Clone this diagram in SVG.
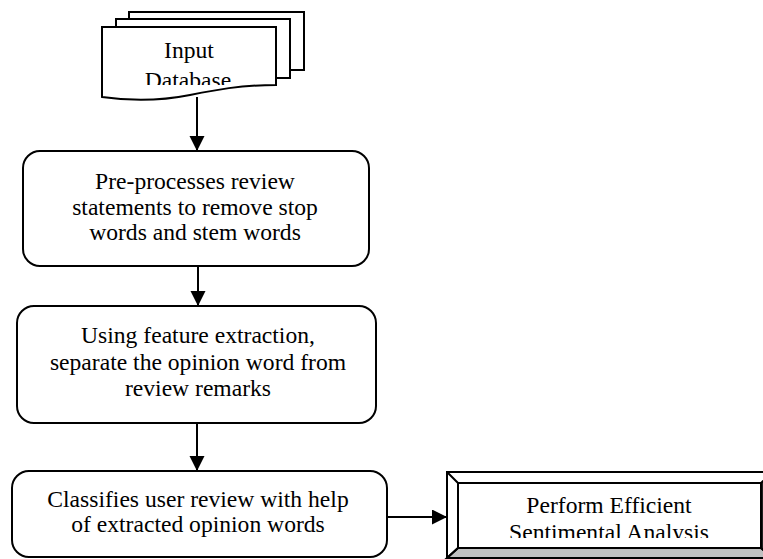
<svg xmlns="http://www.w3.org/2000/svg" width="763" height="559" viewBox="0 0 763 559">
<style>
.s{fill:#fff;stroke:#000;stroke-width:2}
.t{font-family:"Liberation Serif","Times New Roman",serif;font-size:23.6px;fill:#000;text-anchor:middle}
.c{stroke:#000;stroke-width:2;fill:none}
</style>
<defs>
<marker id="ah" markerUnits="userSpaceOnUse" markerWidth="16" markerHeight="16" refX="15" refY="7.5" orient="auto">
<path d="M0,0 L15,7.5 L0,15 Z" fill="#000"/>
</marker>
<clipPath id="docclip"><rect x="103" y="28" width="172" height="57"/></clipPath>
<clipPath id="bevclip"><rect x="458" y="483" width="303" height="55"/></clipPath>
</defs>
<rect width="763" height="559" fill="#fff"/>
<g id="input-database">
<rect class="s" x="129" y="12" width="175" height="58"/>
<rect class="s" x="116" y="19" width="174" height="59"/>
<path class="s" d="M102,27 H276 V85 C240,85 215,90 190,95 C160,101 130,101 102,97 Z"/>
<g clip-path="url(#docclip)">
<text class="t" x="189" y="58">Input</text>
<text class="t" x="188" y="87.5">Database</text>
</g>
</g>
<g id="preprocess">
<rect class="s" x="23" y="151" width="346" height="115" rx="17"/>
<text class="t" x="195" y="189">Pre-processes review</text>
<text class="t" x="195" y="215">statements to remove stop</text>
<text class="t" x="195" y="240">words and stem words</text>
</g>
<g id="feature-extraction">
<rect class="s" x="17" y="306" width="359" height="117" rx="17"/>
<text class="t" x="198" y="343">Using feature extraction,</text>
<text class="t" x="198" y="370">separate the opinion word from</text>
<text class="t" x="198" y="396">review remarks</text>
</g>
<g id="classify">
<rect class="s" x="12" y="471" width="375" height="86" rx="17"/>
<text class="t" x="198" y="507">Classifies user review with help</text>
<text class="t" x="198" y="532">of extracted opinion words</text>
</g>
<g id="sentiment">
<rect class="s" x="447" y="472" width="326" height="88"/>
<path d="M447,558 L458,548 H761 L773,558 Z" fill="#c0c0c0" stroke="#000" stroke-width="2"/>
<path d="M761,483 L773,472 V558 L761,548 Z" fill="#202020" stroke="#000" stroke-width="2"/>
<path d="M447,472 L458,483 M447,558 L458,548" class="c"/>
<rect class="s" x="458" y="483" width="303" height="65"/>
<g clip-path="url(#bevclip)">
<text class="t" x="609" y="513">Perform Efficient</text>
<text class="t" x="609" y="540">Sentimental Analysis</text>
</g>
</g>
<g id="connectors">
<line class="c" x1="197" y1="97" x2="197" y2="151" marker-end="url(#ah)"/>
<line class="c" x1="198" y1="266" x2="198" y2="306" marker-end="url(#ah)"/>
<line class="c" x1="197" y1="423" x2="197" y2="471" marker-end="url(#ah)"/>
<line class="c" x1="387" y1="517" x2="447" y2="517" marker-end="url(#ah)"/>
</g>
</svg>
